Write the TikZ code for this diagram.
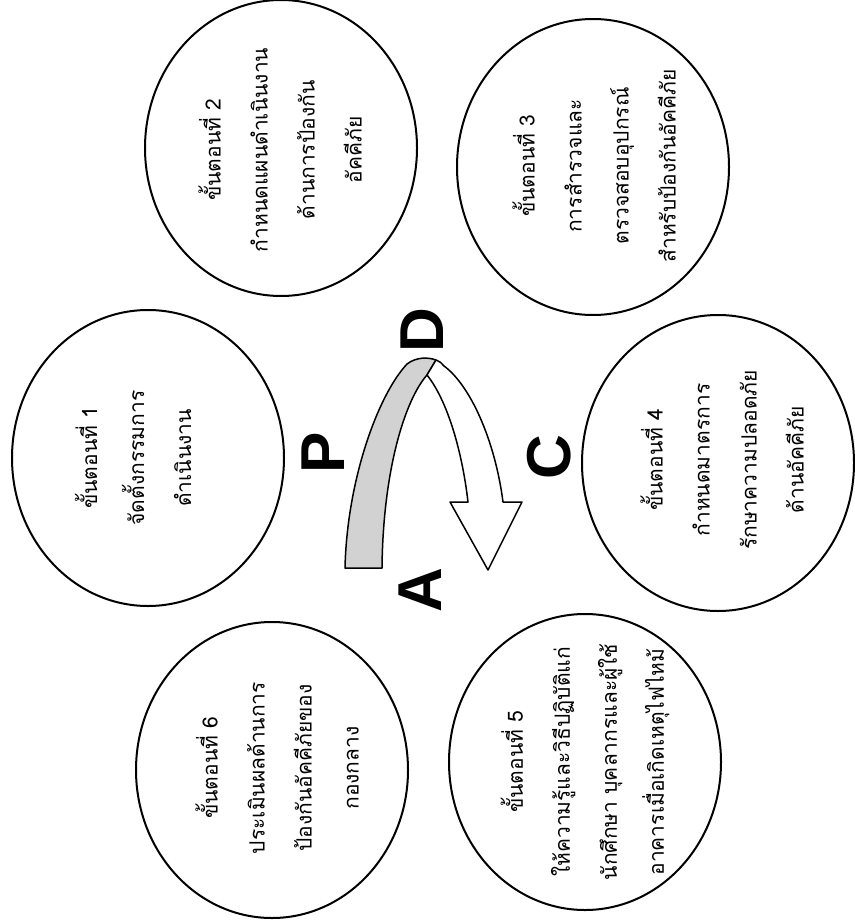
\documentclass[tikz,border=0pt]{standalone}
\usepackage{fontspec}
\newfontfamily\thaifont[Script=Thai]{Loma}
\newfontfamily\letterfont{Liberation Sans}
\usetikzlibrary{shapes.geometric}
\begin{document}
\begin{tikzpicture}[x=1pt,y=-1pt,
  stepcircle/.style={draw,line width=2pt,ellipse,minimum width=272pt,minimum height=296pt,inner sep=0pt},
  steptext/.style={rotate=90,align=center,inner sep=0pt,font=\thaifont\fontsize{21}{47}\selectfont},
  pdca/.style={rotate=90,inner sep=0pt,font=\letterfont\bfseries\fontsize{62}{62}\selectfont},
  ribbon/.style={draw,line width=1.5pt,line join=round}]
\useasboundingbox (0,0) rectangle (854,923);
\fill[white] (0,0) rectangle (854,923);

% circles
\node[stepcircle] (c1) at (148,458) {};
\node[stepcircle] (c2) at (281,148) {};
\node[stepcircle] (c3) at (593,167) {};
\node[stepcircle] (c4) at (718,463) {};
\node[stepcircle] (c5) at (585,762) {};
\node[stepcircle] (c6) at (272,770) {};

% texts
\node[steptext] (t1) at (133,458) {ขั้นตอนที่ 1\\จัดตั้งกรรมการ\\ดำเนินงาน};
\node[steptext] (t2) at (280,150) {ขั้นตอนที่ 2\\กำหนดแผนดำเนินงาน\\ด้านการป้องกัน\\อัคคีภัย};
\node[steptext] (t3) at (594,166) {ขั้นตอนที่ 3\\การสำรวจและ\\ตรวจสอบอุปกรณ์\\สำหรับป้องกันอัคคีภัย};
\node[steptext] (t4) at (722,460) {ขั้นตอนที่ 4\\กำหนดมาตรการ\\รักษาความปลอดภัย\\ด้านอัคคีภัย};
\node[steptext] (t5) at (585,762) {ขั้นตอนที่ 5\\ให้ความรู้และวิธีปฏิบัติแก่\\นักศึกษา บุคลากรและผู้ใช้\\อาคารเมื่อเกิดเหตุไฟไหม้};
\node[steptext] (t6) at (277,768) {ขั้นตอนที่ 6\\ประเมินผลด้านการ\\ป้องกันอัคคีภัยของ\\กองกลาง};

% ribbon arrow
\coordinate (gbl) at (345,568);
\coordinate (gbr) at (382,568);
\coordinate (gtl) at (407,364);
\coordinate (gtr) at (436,360);
\coordinate (wj) at (427,375);
\coordinate (wto) at (444,366);
\coordinate (wso) at (503,502);
\coordinate (wwo) at (522,502);
\coordinate (wtip) at (488,570);
\coordinate (wwi) at (450,502);
\coordinate (wsi) at (468,502);
\path[ribbon,fill=gray!35] (gbl) .. controls (347,480) and (378,395) .. (gtl)
  .. controls (416,357) and (428,357) .. (gtr) -- (wj)
  .. controls (405,400) and (383,470) .. (gbr) -- cycle;
\path[ribbon,fill=white] (gtr) .. controls (439,361) and (442,363) .. (wto)
  .. controls (470,385) and (495,440) .. (wso) -- (wwo) -- (wtip) -- (wwi) -- (wsi)
  .. controls (462,450) and (447,400) .. (wj) -- cycle;

% letters
\node[pdca] (P) at (323,453) {P};
\node[pdca] (D) at (422,330) {D};
\node[pdca] (C) at (549,457) {C};
\node[pdca] (A) at (420,590) {A};
\end{tikzpicture}
\end{document}
